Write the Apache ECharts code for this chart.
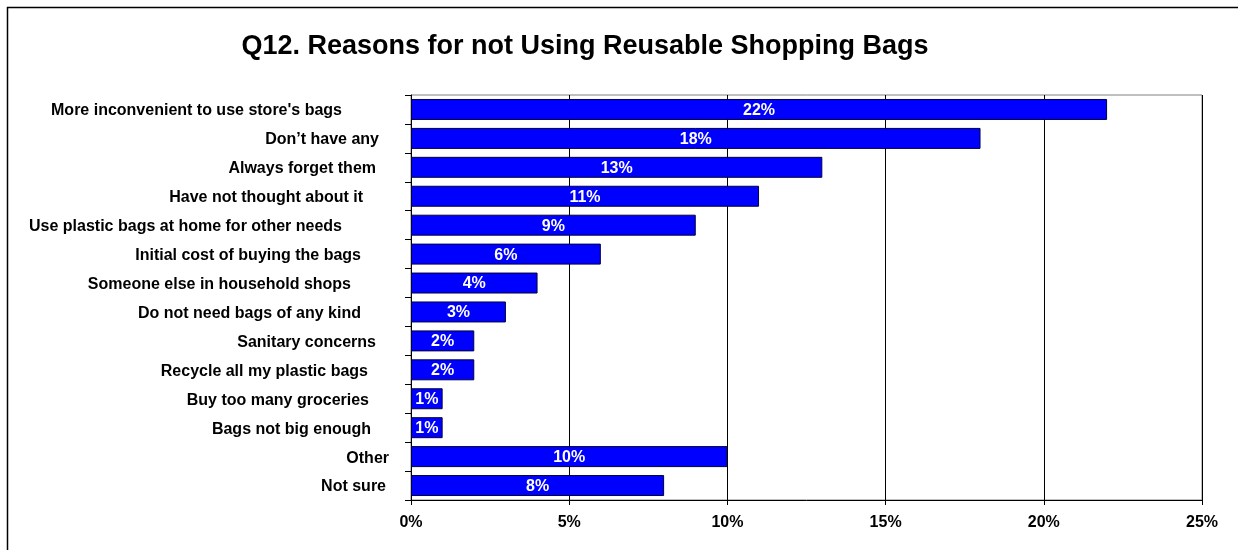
<!DOCTYPE html>
<html><head><meta charset="utf-8">
<script src="https://cdn.jsdelivr.net/npm/echarts@6/dist/echarts.min.js"></script>
<style>html,body{margin:0;padding:0;background:#fff}#c{width:1238px;height:550px}</style>
</head><body><div id="c"></div>
<script>
const titleText = "Q12. Reasons for not Using Reusable Shopping Bags";
const categories = [
  "More inconvenient to use store's bags",
  "Don\u2019t have any",
  "Always forget them",
  "Have not thought about it",
  "Use plastic bags at home for other needs",
  "Initial cost of buying the bags",
  "Someone else in household shops",
  "Do not need bags of any kind",
  "Sanitary concerns",
  "Recycle all my plastic bags",
  "Buy too many groceries",
  "Bags not big enough",
  "Other",
  "Not sure"
];
const values = [22, 18, 13, 11, 9, 6, 4, 3, 2, 2, 1, 1, 10, 8];
const xTicks = [0, 5, 10, 15, 20, 25];

// label right-edge offsets (style only), mimicking original label placement
const labelPad = [47, 10, 13, 26, 47, 28, 38, 28, 13, 21, 20, 18, 0, 3];

const chart = echarts.init(document.getElementById('c'));
const font = 'Arial, "Liberation Sans", sans-serif';
chart.setOption({
  animation: false,
  backgroundColor: '#fff',
  title: {
    text: titleText, left: 580, top: 28, textAlign: 'center',
    textStyle: {fontFamily: font, fontWeight: 'bold', fontSize: 27, color: '#000'}
  },
  graphic: [{
    type: 'rect', shape: {x: 7.5, y: 7.5, width: 1300, height: 1000},
    style: {fill: 'none', stroke: '#000', lineWidth: 1.5}, silent: true, z: 100
  }],
  grid: {left: 411, right: 36, top: 95, bottom: 50, show: true, borderColor: '#808080', borderWidth: 1},
  xAxis: {
    type: 'value', min: 0, max: 25, interval: 5,
    axisLine: {show: true, lineStyle: {color: '#000', width: 1}},
    axisTick: {show: true, length: 5, lineStyle: {color: '#000'}},
    splitLine: {show: true, lineStyle: {color: '#000', width: 1}},
    axisLabel: {formatter: v => xTicks.includes(v) ? v + '%' : '', fontFamily: font, fontWeight: 'bold', fontSize: 16, color: '#000', margin: 15}
  },
  yAxis: {
    type: 'category', data: categories, inverse: true,
    axisLine: {show: true, lineStyle: {color: '#000', width: 1}},
    axisTick: {show: true, length: 6, lineStyle: {color: '#000'}},
    axisLabel: {
      fontFamily: font, fontWeight: 'bold', fontSize: 16, color: '#000', margin: 22,
      formatter: (v, i) => '{p' + i + '|' + v + '}',
      rich: Object.fromEntries(labelPad.map((p, i) => ['p' + i, {fontFamily: font, fontWeight: 'bold', fontSize: 16, color: '#000', padding: [3, p, 0, 0]}]))
    }
  },
  series: [{
    type: 'bar', data: values, barCategoryGap: '27.5%',
    itemStyle: {color: '#0000FF', borderColor: '#000040', borderWidth: 1},
    label: {show: true, position: 'inside', offset: [0, 1], formatter: p => p.value + '%', color: '#fff', fontFamily: font, fontWeight: 'bold', fontSize: 16}
  }]
});
</script></body></html>
